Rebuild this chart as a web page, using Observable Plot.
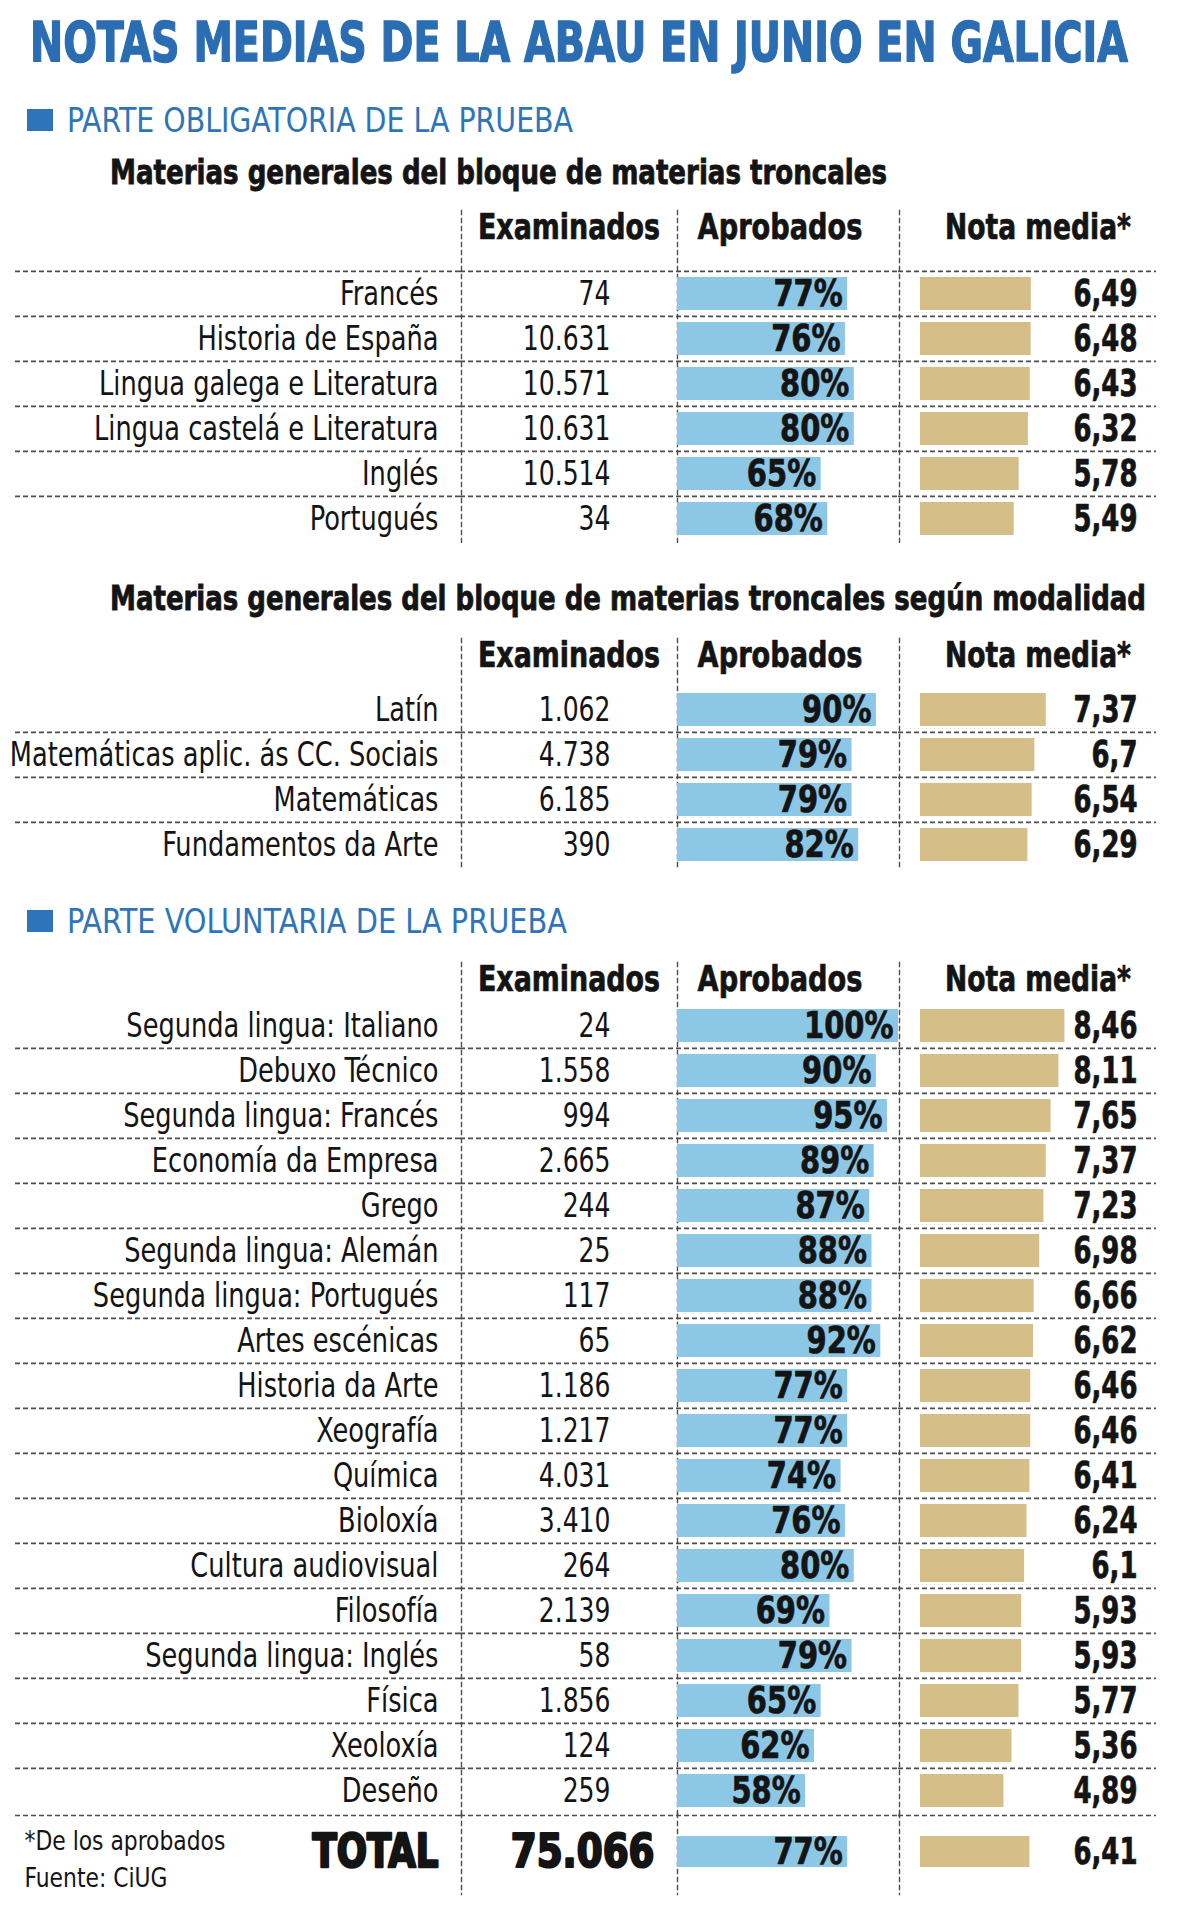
<!DOCTYPE html>
<html lang="gl">
<head>
<meta charset="utf-8">
<script src="https://cdn.jsdelivr.net/npm/d3@7"></script>
<script src="https://cdn.jsdelivr.net/npm/@observablehq/plot@0.6"></script>
<style>
  html,body{margin:0;padding:0;background:#fff;}
  #page{position:relative;width:1200px;height:1913px;overflow:hidden;background:#fff;
    font-family:"Liberation Sans Narrow","Arial Narrow","DejaVu Sans Condensed",sans-serif;color:#141414;}
  .t{position:absolute;white-space:nowrap;line-height:1;transform-origin:0 50%;}
  #title{left:30px;font-size:56px;font-weight:bold;color:#2b6db3;-webkit-text-stroke:1.4px #2b6db3;}
  .part{left:67px;font-size:34px;color:#2e74ba;}
  .square{position:absolute;left:27px;width:26px;height:22px;background:#2e74ba;}
  .sub{left:110px;font-size:34px;font-weight:bold;-webkit-text-stroke:0.8px #141414;}
  .col{position:absolute;}
  .col svg{display:block;overflow:visible;max-width:none;}
</style>
</head>
<body>
<div id="page">
  <div id="title" class="t">NOTAS MEDIAS DE LA ABAU EN JUNIO EN GALICIA</div>
  <div class="square" style="top:109px"></div>
  <div id="part1" class="t part">PARTE OBLIGATORIA DE LA PRUEBA</div>
  <div id="sub1" class="t sub">Materias generales del bloque de materias troncales</div>
  <div id="sub2" class="t sub">Materias generales del bloque de materias troncales según modalidad</div>
  <div class="square" style="top:910px"></div>
  <div id="part2" class="t part">PARTE VOLUNTARIA DE LA PRUEBA</div>
</div>
<script>
// ---------- DATA ----------
const columnHeaders = ["Examinados", "Aprobados", "Nota media*"];

const sec1Names = ["Francés", "Historia de España", "Lingua galega e Literatura", "Lingua castelá e Literatura", "Inglés", "Portugués"];
const sec1Examinados = [74, 10631, 10571, 10631, 10514, 34];
const sec1Aprobados = [77, 76, 80, 80, 65, 68];
const sec1Nota = [6.49, 6.48, 6.43, 6.32, 5.78, 5.49];

const sec2Names = ["Latín", "Matemáticas aplic. ás CC. Sociais", "Matemáticas", "Fundamentos da Arte"];
const sec2Examinados = [1062, 4738, 6185, 390];
const sec2Aprobados = [90, 79, 79, 82];
const sec2Nota = [7.37, 6.7, 6.54, 6.29];

const sec3Names = ["Segunda lingua: Italiano", "Debuxo Técnico", "Segunda lingua: Francés", "Economía da Empresa", "Grego",
  "Segunda lingua: Alemán", "Segunda lingua: Portugués", "Artes escénicas", "Historia da Arte", "Xeografía", "Química",
  "Bioloxía", "Cultura audiovisual", "Filosofía", "Segunda lingua: Inglés", "Física", "Xeoloxía", "Deseño"];
const sec3Examinados = [24, 1558, 994, 2665, 244, 25, 117, 65, 1186, 1217, 4031, 3410, 264, 2139, 58, 1856, 124, 259];
const sec3Aprobados = [100, 90, 95, 89, 87, 88, 88, 92, 77, 77, 74, 76, 80, 69, 79, 65, 62, 58];
const sec3Nota = [8.46, 8.11, 7.65, 7.37, 7.23, 6.98, 6.66, 6.62, 6.46, 6.46, 6.41, 6.24, 6.1, 5.93, 5.93, 5.77, 5.36, 4.89];

const totalNames = ["TOTAL"];
const totalExaminados = [75066];
const totalAprobados = [77];
const totalNota = [6.41];

const footnotes = ["*De los aprobados", "Fuente: CiUG"];

// ---------- HELPERS ----------
const FONT = '"Liberation Sans Narrow","Arial Narrow","DejaVu Sans Condensed",sans-serif';
const INK = "#141414", RULE = "#4d4d4d", BLUE = "#8dc7e6", TAN = "#d5be88";
const fmtInt = d3.formatLocale({decimal: ",", thousands: ".", grouping: [3], currency: ["", ""]}).format(",d");
const fmtNota = v => String(v).replace(".", ",");
const toRows = (names, ex, ap, no) => names.map((name, i) => ({name, exam: ex[i], aprob: ap[i], nota: no[i]}));

function place(id, cy, w) {
  const el = document.getElementById(id);
  const fs = parseFloat(getComputedStyle(el).fontSize);
  el.style.top = (cy - 0.49 * fs) + "px";
  const r = el.getBoundingClientRect().width;
  el.style.transform = `scaleX(${w / r})`;
}
place("title", 41.5, 1098);
place("part1", 120, 506);
place("sub1", 172, 777);
place("sub2", 598, 1036);
place("part2", 921, 500);

// horizontally condense text of marks tagged with ariaDescription "sx:<factor>"
function condense(svg) {
  svg.querySelectorAll("g[aria-description^='sx:']").forEach(g => {
    const s = g.getAttribute("aria-description").slice(3);
    g.querySelectorAll("text").forEach(t => {
      const tr = t.getAttribute("transform") || "";
      t.setAttribute("transform", `${tr} scale(${s},1)`);
    });
  });
  return svg;
}

const page = document.getElementById("page");
const COLS = [{left: 0, width: 460}, {left: 460, width: 216}, {left: 676, width: 222}, {left: 898, width: 258}];

function drawSection(rows, g) {
  const domain = rows.map(d => d.name);
  const height = g.marginTop + rows.length * g.rowH + g.marginBottom;
  const ruled = g.ruleFirst ? rows : rows.slice(1);
  const common = (ci, marginLeft, extra = {}) => ({
    width: COLS[ci].width, height,
    marginTop: g.marginTop, marginBottom: g.marginBottom, marginLeft, marginRight: 0,
    y: {type: "band", domain, padding: 0, axis: null},
    style: {fontFamily: FONT, color: INK, background: "transparent", overflow: "visible"},
    ...extra
  });
  const dash = {stroke: RULE, strokeWidth: 1.6, strokeDasharray: "5,3"};
  const hRule = (il = 0) => Plot.ruleY(ruled, {y: "name", dy: -g.rowH / 2, insetLeft: il, ...dash});
  const vRule = Plot.frame({anchor: "left", insetTop: -g.marginTop, insetBottom: -g.marginBottom,
    stroke: RULE, strokeWidth: 1.4, strokeDasharray: "4,4"});
  const header = (label, dx, sx) => g.headerCenter == null ? null :
    Plot.text([label], {frameAnchor: "top", lineAnchor: "middle", dy: g.headerCenter - g.marginTop, dx,
      fontSize: 36, fontWeight: "bold", fill: INK, stroke: INK, strokeWidth: 0.7, ariaDescription: "sx:" + sx});
  const bold = {fontSize: 37, fontWeight: "bold", fill: INK, stroke: INK, strokeWidth: 0.7};
  const isBold = (w) => w === "bold";

  const plots = [
    Plot.plot({...common(0, 15), marks: [
      hRule(),
      Plot.text(rows, {y: "name", text: "name", frameAnchor: "right", textAnchor: "end", dx: -22,
        fontSize: g.labelSize, fontWeight: g.labelWeight, fill: INK,
        stroke: isBold(g.labelWeight) ? INK : null, strokeWidth: isBold(g.labelWeight) ? 2.4 : null,
        ariaDescription: "sx:" + g.labelSx}),
      ...(g.footnotes ? g.footnotes.map((f, i) => Plot.text([f], {frameAnchor: "top-left", lineAnchor: "middle",
        textAnchor: "start", dx: 9, dy: 26 + i * 37, fontSize: 27, fill: INK, ariaDescription: "sx:0.9"})) : [])
    ]}),
    Plot.plot({...common(1, 1), marks: [
      hRule(-1), vRule, header(columnHeaders[0], 0, 0.83),
      Plot.text(rows, {y: "name", text: d => fmtInt(d.exam), frameAnchor: "right", textAnchor: "end", dx: g.examDx,
        fontSize: g.examSize, fontWeight: g.examWeight, fill: INK,
        stroke: isBold(g.examWeight) ? INK : null, strokeWidth: isBold(g.examWeight) ? 2.2 : null,
        ariaDescription: "sx:" + g.examSx})
    ].filter(Boolean)}),
    Plot.plot({...common(2, 1, {x: {domain: [0, 100], range: [1, 222], axis: null}}), marks: [
      hRule(-1), vRule, header(columnHeaders[1], -8, 0.84),
      Plot.barX(rows, {x: "aprob", y: "name", fill: BLUE, insetTop: g.barInset, insetBottom: g.barInset}),
      Plot.text(rows, {x: "aprob", y: "name", text: d => d.aprob + "%", textAnchor: "end", dx: -5, ...bold,
        ariaDescription: "sx:0.87"})
    ].filter(Boolean)}),
    Plot.plot({...common(3, 1, {x: {domain: [0, 10], range: [22, 192.7], axis: null}}), marks: [
      hRule(-1), vRule, header(columnHeaders[2], 10, 0.82),
      Plot.barX(rows, {x: "nota", y: "name", fill: TAN, insetTop: g.barInset, insetBottom: g.barInset}),
      Plot.text(rows, {y: "name", text: d => fmtNota(d.nota), frameAnchor: "right", textAnchor: "end", dx: -19, ...bold,
        ariaDescription: "sx:0.78"})
    ].filter(Boolean)})
  ];
  plots.forEach((svg, i) => {
    const div = document.createElement("div");
    div.className = "col";
    div.style.left = COLS[i].left + "px";
    div.style.top = g.top + "px";
    div.appendChild(condense(svg));
    page.appendChild(div);
  });
}

const rowH = 45.25;
const bodyStyle = {rowH, marginBottom: 0, labelSize: 34, labelWeight: "normal", labelSx: 0.84,
  examSize: 34, examWeight: "normal", examSx: 0.82, examDx: -66, barInset: 6, headerCenter: 17};

drawSection(toRows(sec1Names, sec1Examinados, sec1Aprobados, sec1Nota), {...bodyStyle, top: 210, marginTop: 60.3, ruleFirst: true});
drawSection(toRows(sec2Names, sec2Examinados, sec2Aprobados, sec2Nota), {...bodyStyle, top: 638, marginTop: 48.1, ruleFirst: false});
drawSection(toRows(sec3Names, sec3Examinados, sec3Aprobados, sec3Nota), {...bodyStyle, top: 962, marginTop: 38.3, ruleFirst: false});
drawSection(toRows(totalNames, totalExaminados, totalAprobados, totalNota), {
  top: 1813, marginTop: 2, marginBottom: 6, rowH: 73, ruleFirst: true, headerCenter: null,
  labelSize: 46, labelWeight: "bold", labelSx: 0.86, examSize: 46, examWeight: "bold", examSx: 0.9,
  examDx: -22, barInset: 21, footnotes
});
</script>
</body>
</html>
